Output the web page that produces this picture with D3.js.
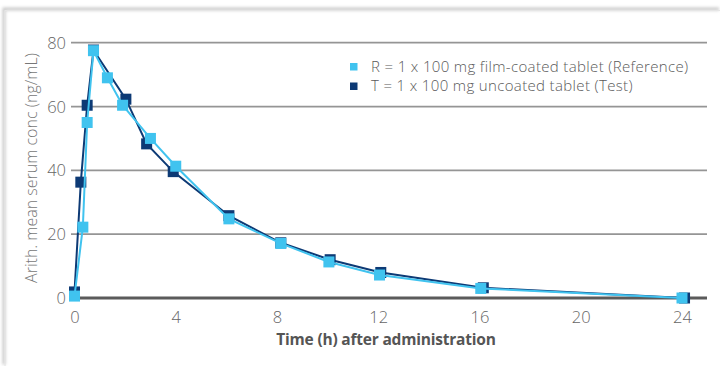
<!DOCTYPE html>
<html>
<head>
<meta charset="utf-8">
<script src="https://cdn.jsdelivr.net/npm/d3@7"></script>
<style>
  html, body { margin: 0; padding: 0; background: #fff; }
  svg { display: block; font-family: "Open Sans", "Noto Sans", sans-serif; }
</style>
</head>
<body>
<svg id="chart" width="720" height="366"></svg>
<script>
// Mean serum concentration profiles of the two formulations
const refTimes   = [0, 0.33, 0.5, 0.75, 1.3, 1.9, 3, 4, 6.1, 8.15, 10.05, 12.05, 16.05, 24];
const refValues  = [0.6, 22.2, 55, 77.5, 69, 60.4, 50, 41.3, 24.8, 17.1, 11.3, 7.2, 3.0, 0];
const testTimes  = [0, 0.25, 0.5, 0.75, 2.03, 2.85, 3.9, 6.1, 8.15, 10.1, 12.1, 16.15, 24.1];
const testValues = [1.9, 36.3, 60.4, 77.7, 62.3, 48.3, 39.6, 25.8, 17.3, 12.0, 8.0, 3.2, 0];

const xTicks = [0, 4, 8, 12, 16, 20, 24];
const yTicks = [0, 20, 40, 60, 80];

const seriesNames = [
  "R = 1 x 100 mg film-coated tablet (Reference)",
  "T = 1 x 100 mg uncoated tablet (Test)"
];
const seriesColors = ["#40c3ef", "#0d3a75"];

const svg = d3.select("#chart");

// card edge with a soft shadow
const defs = svg.append("defs");
defs.append("filter").attr("id", "soft")
  .attr("x", "-5%").attr("y", "-5%").attr("width", "110%").attr("height", "110%")
  .append("feGaussianBlur").attr("stdDeviation", 1.6);
svg.append("path").attr("d", "M5,366V10.5H720")
  .attr("fill", "none").attr("stroke", "#c8c8c8").attr("stroke-width", 3)
  .attr("filter", "url(#soft)").attr("transform", "translate(-1,-1.5)");
svg.append("path").attr("d", "M5,366V10.5H720")
  .attr("fill", "none").attr("stroke", "#e6e6e6").attr("stroke-width", 1.2);

const x = d3.scaleLinear().domain([0, 24]).range([74.5, 682]);
const y = d3.scaleLinear().domain([0, 80]).range([298, 42.7]);

const gridLeft = 71, gridRight = 707;

// horizontal gridlines
svg.append("g").selectAll("line").data(yTicks.filter(d => d > 0)).join("line")
  .attr("x1", gridLeft).attr("x2", gridRight)
  .attr("y1", d => y(d)).attr("y2", d => y(d))
  .attr("stroke", "#959595").attr("stroke-width", 1.8);

// baseline
svg.append("line")
  .attr("x1", gridLeft).attr("x2", gridRight)
  .attr("y1", y(0)).attr("y2", y(0))
  .attr("stroke", "#5b5b5b").attr("stroke-width", 3);

// y axis labels
const yAxis = d3.axisLeft(y).tickValues(yTicks).tickSize(0).tickPadding(0);
const yG = svg.append("g").attr("transform", "translate(66,0)").call(yAxis);
yG.select(".domain").remove();
yG.selectAll("text")
  .attr("fill", "#666").attr("font-size", 16.5).attr("font-weight", 300)
  .attr("font-family", "'Open Sans', 'Noto Sans', sans-serif")
  .attr("dy", "0.34em");

// x axis labels
const xAxis = d3.axisBottom(x).tickValues(xTicks).tickSize(0).tickPadding(0);
const xG = svg.append("g").attr("transform", "translate(0,311)").call(xAxis);
xG.select(".domain").remove();
xG.selectAll("text")
  .attr("fill", "#666").attr("font-size", 16.5).attr("font-weight", 300)
  .attr("font-family", "'Open Sans', 'Noto Sans', sans-serif")
  .attr("dy", "0.71em").attr("y", 0);

// axis titles
svg.append("text")
  .attr("transform", "translate(37,168) rotate(-90)")
  .attr("text-anchor", "middle")
  .attr("fill", "#777").attr("font-size", 16).attr("font-weight", 300)
  .text("Arith. mean serum conc (ng/mL)");

svg.append("text")
  .attr("x", 386).attr("y", 345)
  .attr("text-anchor", "middle")
  .attr("fill", "#555").attr("font-size", 15.5).attr("font-weight", 700)
  .attr("font-family", "'Open Sans', 'Noto Sans', sans-serif")
  .attr("letter-spacing", -0.2)
  .text("Time (h) after administration");

// series
const refData = refTimes.map((t, i) => ({ t, v: refValues[i] }));
const testData = testTimes.map((t, i) => ({ t, v: testValues[i] }));
const line = d3.line().x(d => x(d.t)).y(d => y(d.v));
const m = 11;

svg.append("path").datum(testData).attr("d", line)
  .attr("fill", "none").attr("stroke", seriesColors[1]).attr("stroke-width", 2);
svg.append("g").selectAll("rect").data(testData).join("rect")
  .attr("x", d => x(d.t) - m / 2).attr("y", d => y(d.v) - m / 2)
  .attr("width", m).attr("height", m).attr("fill", seriesColors[1]);

svg.append("path").datum(refData).attr("d", line)
  .attr("fill", "none").attr("stroke", seriesColors[0]).attr("stroke-width", 2);
svg.append("g").selectAll("rect").data(refData).join("rect")
  .attr("x", d => x(d.t) - m / 2).attr("y", d => y(d.v) - m / 2)
  .attr("width", m).attr("height", m).attr("fill", seriesColors[0]);

// legend
const lg = svg.append("g").attr("transform", "translate(350,0)");
seriesNames.forEach((name, i) => {
  const cy = 66.5 + i * 19.5;
  lg.append("rect").attr("x", 0).attr("y", cy - 3.5).attr("width", 7.5).attr("height", 7.5)
    .attr("fill", seriesColors[i]);
  lg.append("text").attr("x", 21).attr("y", cy).attr("dy", "0.36em")
    .attr("fill", "#5a5a5a").attr("font-size", 15).attr("font-weight", 300)
    .attr("letter-spacing", 0.35)
    .text(name);
});
</script>
</body>
</html>
